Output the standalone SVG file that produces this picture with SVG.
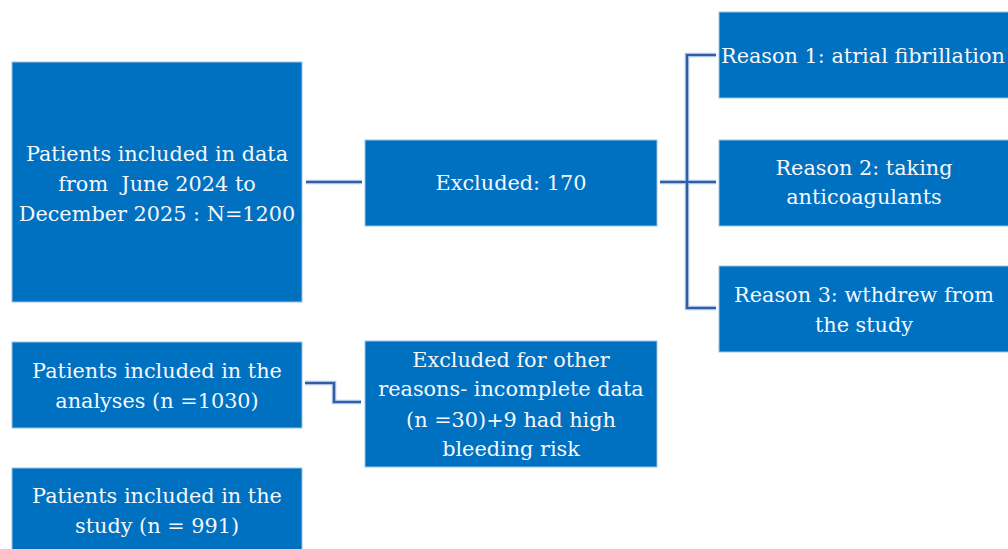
<svg xmlns="http://www.w3.org/2000/svg" width="1008" height="549" viewBox="0 0 1008 549">
<style>
.box{fill:#0070c0;stroke:#9dc3e6;stroke-width:1}
.t{font-family:"DejaVu Serif","Liberation Serif",serif;font-size:20.8px;fill:#f4f8fc;text-anchor:middle;white-space:pre}
.halo{fill:none;stroke:#a9c1e3;stroke-width:4.5}
.ln{fill:none;stroke:#2f5ea6;stroke-width:2.2}
</style>
<rect width="1008" height="549" fill="#ffffff"/>
<g id="connectors">
<path class="halo" d="M306 182H362M660 182H716M716 55H687V308H716M305 383H334V402H361"/>
<path class="ln" d="M306 182H362M660 182H716M716 55H687V308H716M305 383H334V402H361"/>
</g>
<g id="n-total">
<rect class="box" x="12" y="62" width="290" height="240"/>
<text class="t" x="157" y="161">Patients included in data</text>
<text class="t" x="157" y="191">from  June 2024 to</text>
<text class="t" x="157" y="221">December 2025 : N=1200</text>
</g>
<g id="n-excluded">
<rect class="box" x="365" y="140" width="292" height="86"/>
<text class="t" x="511" y="190">Excluded: 170</text>
</g>
<g id="n-reason1">
<rect class="box" x="719" y="12" width="295" height="86"/>
<text class="t" x="721" y="63" style="text-anchor:start">Reason 1: atrial fibrillation</text>
</g>
<g id="n-reason2">
<rect class="box" x="719" y="140" width="295" height="86"/>
<text class="t" x="864" y="175">Reason 2: taking</text>
<text class="t" x="864" y="204">anticoagulants</text>
</g>
<g id="n-reason3">
<rect class="box" x="719" y="266" width="295" height="86"/>
<text class="t" x="864" y="302">Reason 3: wthdrew from</text>
<text class="t" x="864" y="332">the study</text>
</g>
<g id="n-analyses">
<rect class="box" x="12" y="342" width="290" height="86"/>
<text class="t" x="157" y="378">Patients included in the</text>
<text class="t" x="157" y="408">analyses (n =1030)</text>
</g>
<g id="n-other">
<rect class="box" x="365" y="341" width="292" height="126"/>
<text class="t" x="511" y="367">Excluded for other</text>
<text class="t" x="511" y="396">reasons- incomplete data</text>
<text class="t" x="511" y="427">(n =30)+9 had high</text>
<text class="t" x="511" y="456">bleeding risk</text>
</g>
<g id="n-study">
<rect class="box" x="12" y="468" width="290" height="90"/>
<text class="t" x="157" y="503">Patients included in the</text>
<text class="t" x="157" y="533">study (n = 991)</text>
</g>
</svg>
